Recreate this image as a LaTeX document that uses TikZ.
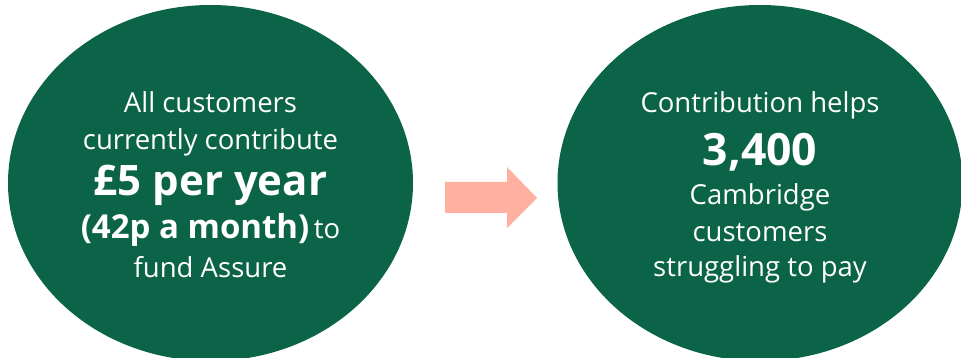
\documentclass[tikz,border=0pt]{standalone}
\usepackage{fontspec}
\setmainfont{Open Sans}
\usetikzlibrary{shapes.geometric}
\definecolor{darkgreen}{RGB}{11,99,72}
\definecolor{salmon}{RGB}{255,176,160}
\tikzset{
  bubble/.style={ellipse, fill=darkgreen, inner sep=0pt,
    minimum width=405pt, minimum height=356pt},
  blurb/.style={text=white, align=center, inner sep=0pt, font=\fontsize{27.5}{37}\selectfont},
  flow/.style={fill=salmon}
}
\begin{document}
\begin{tikzpicture}[x=1pt,y=1pt]
  \useasboundingbox (0,0) rectangle (961,358);
  \node[bubble] (contribute) at (210.5,175) {};
  \node[bubble] (helps) at (760,175) {};
  \node[blurb] (contributetext) at ([yshift=-2pt]contribute.center) {All customers\\
    currently contribute\\[8pt]
    {\fontsize{42}{40}\selectfont\bfseries £5 per year}\\[6pt]
    {\fontsize{33}{37}\selectfont\bfseries (42p a month)}\,to\\[2pt]
    fund Assure};
  \node[blurb] (helpstext) at ([yshift=-4.5pt]helps.center) {Contribution helps\\[13pt]
    {\fontsize{44.5}{40}\selectfont\bfseries 3,400}\\[2pt]
    Cambridge\\
    customers\\[-2pt]
    struggling to pay};
  % block arrow between the two bubbles
  \fill[flow] (445,176) -- (507,176) -- (507,191) -- (537,160) -- (507,130)
    -- (507,145) -- (445,145) -- cycle;
\end{tikzpicture}
\end{document}
